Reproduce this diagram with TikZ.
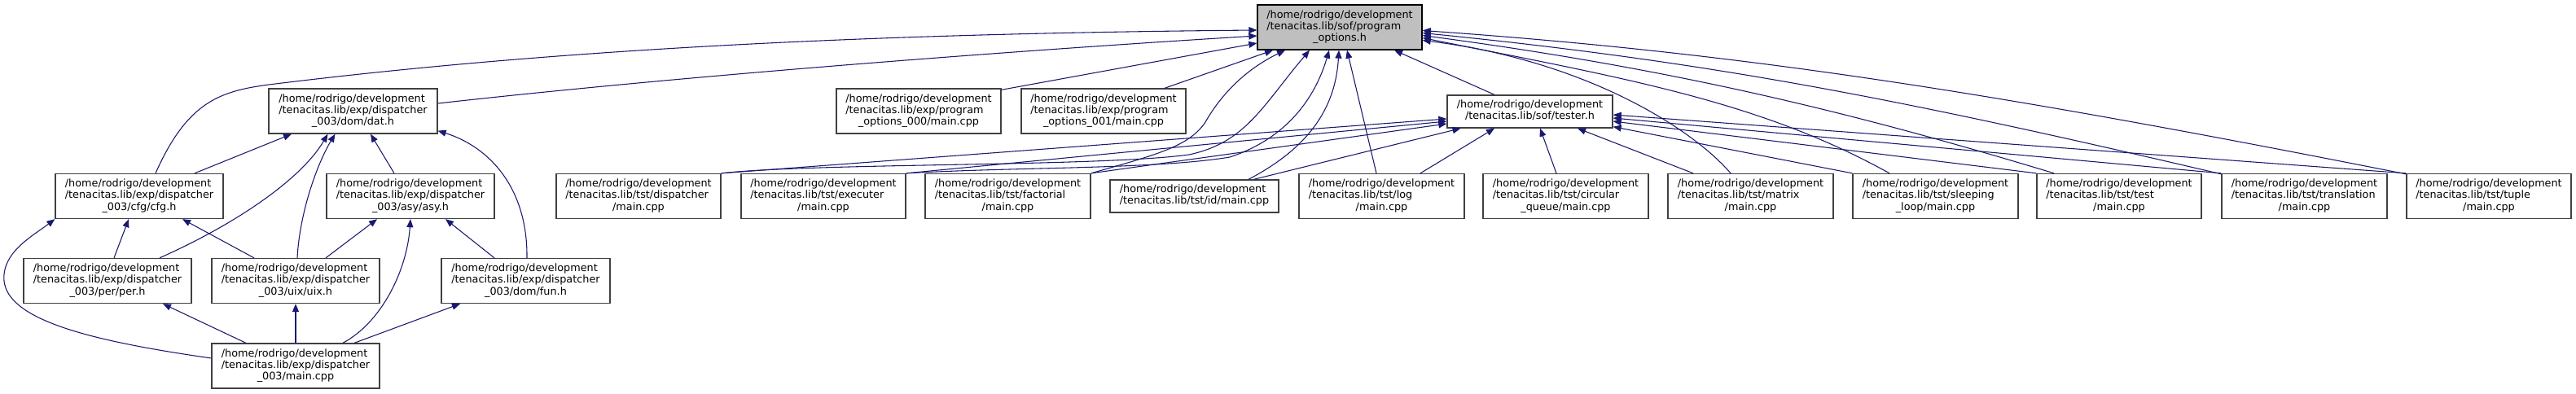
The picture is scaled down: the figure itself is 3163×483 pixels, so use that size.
\documentclass[tikz,border=0pt]{standalone}
\usepackage{fontspec}
\setmainfont{DejaVu Sans}
\usetikzlibrary{arrows.meta,calc}
\definecolor{edgeblue}{HTML}{191970}
\definecolor{boxborder}{HTML}{404040}
\definecolor{pofill}{HTML}{BFBFBF}
\newcommand{\lblfont}{\fontsize{9.6pt}{10.7pt}\selectfont}
\newcommand{\lblthree}[3]{\begin{tabular}{@{}l@{}}#1\\#2\\\multicolumn{1}{@{}c@{}}{#3}\end{tabular}}
\newcommand{\lbltwo}[2]{\begin{tabular}{@{}l@{}}#1\\\multicolumn{1}{@{}c@{}}{#2}\end{tabular}}
\tikzset{
  fbox/.style={draw=boxborder, line width=1pt, fill=white, inner xsep=0pt, inner ysep=0pt,
    minimum width=#1*0.75pt, minimum height=41.25pt, font=\lblfont},
  fboxtwo/.style={fbox=#1, minimum height=30pt},
  dep/.style={draw=edgeblue, line width=0.8pt, -{Triangle[length=7.5pt,width=6pt]}},
}
\begin{document}
\begin{tikzpicture}[x=0.75pt,y=-0.75pt]
\fill[white] (0,0) rectangle (3163,483);
\useasboundingbox (0,0) rectangle (3163,483);
% nodes
\node[fbox=202, fill=pofill, draw=black] (po) at (1645,33.5) {\lblthree{/home/rodrigo/development}{/tenacitas.lib/sof/program}{\_options.h}};
\node[fbox=207] (dat) at (433.5,136.5) {\lblthree{/home/rodrigo/development}{/tenacitas.lib/exp/dispatcher}{\_003/dom/dat.h}};
\node[fbox=202] (p000) at (1128,136.5) {\lblthree{/home/rodrigo/development}{/tenacitas.lib/exp/program}{\_options\_000/main.cpp}};
\node[fbox=202] (p001) at (1355,136.5) {\lblthree{/home/rodrigo/development}{/tenacitas.lib/exp/program}{\_options\_001/main.cpp}};
\node[fboxtwo=203] (tester) at (1878.5,137) {\lbltwo{/home/rodrigo/development}{/tenacitas.lib/sof/tester.h}};
\node[fbox=206] (cfg) at (171,241) {\lblthree{/home/rodrigo/development}{/tenacitas.lib/exp/dispatcher}{\_003/cfg/cfg.h}};
\node[fbox=206] (asy) at (504,241) {\lblthree{/home/rodrigo/development}{/tenacitas.lib/exp/dispatcher}{\_003/asy/asy.h}};
\node[fbox=202] (tdisp) at (784,241) {\lblthree{/home/rodrigo/development}{/tenacitas.lib/tst/dispatcher}{/main.cpp}};
\node[fbox=202] (texec) at (1011,241) {\lblthree{/home/rodrigo/development}{/tenacitas.lib/tst/executer}{/main.cpp}};
\node[fbox=203] (tfact) at (1237.5,241) {\lblthree{/home/rodrigo/development}{/tenacitas.lib/tst/factorial}{/main.cpp}};
\node[fboxtwo=207] (tid) at (1466.5,241) {\lbltwo{/home/rodrigo/development}{/tenacitas.lib/tst/id/main.cpp}};
\node[fbox=203] (tlog) at (1696.5,241) {\lblthree{/home/rodrigo/development}{/tenacitas.lib/tst/log}{/main.cpp}};
\node[fbox=203] (tcirc) at (1922.5,241) {\lblthree{/home/rodrigo/development}{/tenacitas.lib/tst/circular}{\_queue/main.cpp}};
\node[fbox=203] (tmat) at (2149.5,241) {\lblthree{/home/rodrigo/development}{/tenacitas.lib/tst/matrix}{/main.cpp}};
\node[fbox=203] (tsleep) at (2376.5,241) {\lblthree{/home/rodrigo/development}{/tenacitas.lib/tst/sleeping}{\_loop/main.cpp}};
\node[fbox=202] (ttest) at (2602,241) {\lblthree{/home/rodrigo/development}{/tenacitas.lib/tst/test}{/main.cpp}};
\node[fbox=203] (ttrans) at (2829.5,241) {\lblthree{/home/rodrigo/development}{/tenacitas.lib/tst/translation}{/main.cpp}};
\node[fbox=202] (ttuple) at (3056,241) {\lblthree{/home/rodrigo/development}{/tenacitas.lib/tst/tuple}{/main.cpp}};
\node[fbox=206] (per) at (132,345) {\lblthree{/home/rodrigo/development}{/tenacitas.lib/exp/dispatcher}{\_003/per/per.h}};
\node[fbox=206] (uix) at (363,345) {\lblthree{/home/rodrigo/development}{/tenacitas.lib/exp/dispatcher}{\_003/uix/uix.h}};
\node[fbox=207] (fun) at (645.5,345) {\lblthree{/home/rodrigo/development}{/tenacitas.lib/exp/dispatcher}{\_003/dom/fun.h}};
\node[fbox=206] (main) at (363,449.5) {\lblthree{/home/rodrigo/development}{/tenacitas.lib/exp/dispatcher}{\_003/main.cpp}};
% edges to program_options.h
\draw[dep] ($(cfg.north)+(20,0)$) .. controls (230,125) and (270,112) .. (330,104) .. controls (700,58) and (1100,41) .. ($(po.west)+(0,3.5)$);
\draw[dep] ($(dat.east)+(0,-9.5)$) .. controls (850,92) and (1250,62) .. ($(po.west)+(0,10.5)$);
\draw[dep] ($(p000.north east)+(0,2)$) -- ($(po.west)+(0,19.5)$);
\draw[dep] ($(p001.north)+(75,0)$) -- ($(po.south)+(-82,0)$);
\draw[dep] ($(tester.north)+(-43.5,0)$) -- ($(po.south)+(67,0)$);
\draw[dep] (tdisp.north east) .. controls (1000,200) and (1350,205) .. (1460,190) .. controls (1530,175) and (1550,130) .. ($(po.south)+(-37,0)$);
\draw[dep] (texec.north east) .. controls (1250,205) and (1420,208) .. (1510,193) .. controls (1580,170) and (1615,120) .. ($(po.south)+(-13,0)$);
\draw[dep] (tfact.north east) .. controls (1420,190) and (1460,180) .. (1480,150) .. controls (1500,115) and (1530,85) .. ($(po.south)+(-67,0)$);
\draw[dep] ($(tid.north)+(66.5,0)$) .. controls (1610,180) and (1640,130) .. ($(po.south)+(-1,0)$);
\draw[dep] ($(tlog.north)+(-6.5,0)$) -- ($(po.south)+(9,0)$);
\draw[dep] ($(tmat.north)+(-24.5,0)$) .. controls (2080,160) and (1950,75) .. ($(po.east)+(0,16)$);
\draw[dep] ($(tsleep.north)+(-56.5,0)$) .. controls (2160,124) and (1996,96.5) .. ($(po.east)+(0,13)$);
\draw[dep] ($(ttest.north)+(-80,0)$) .. controls (2262,134) and (2046,83.5) .. ($(po.east)+(0,10)$);
\draw[dep] ($(ttrans.north west)+(0,1)$) .. controls (2328,120) and (2096,75.5) .. ($(po.east)+(0,7)$);
\draw[dep] ($(ttuple.north west)+(0,1)$) .. controls (2455,115) and (2146,65.5) .. ($(po.east)+(0,4)$);
% edges to tester.h
\draw[dep] (tdisp.north east) -- ($(tester.west)+(0,9)$);
\draw[dep] (texec.north east) -- ($(tester.west)+(0,12)$);
\draw[dep] (tfact.north east) -- ($(tester.west)+(0,15)$);
\draw[dep] ($(tid.north)+(73,0)$) -- ($(tester.south)+(-85,0)$);
\draw[dep] ($(tlog.north)+(47.5,0)$) -- ($(tester.south)+(-43.5,0)$);
\draw[dep] ($(tcirc.north)+(-11.5,0)$) -- ($(tester.south)+(12.5,0)$);
\draw[dep] ($(tmat.north)+(-70.5,0)$) -- ($(tester.south)+(58.5,0)$);
\draw[dep] (tsleep.north west) -- ($(tester.south east)+(0,-2)$);
\draw[dep] (ttest.north west) -- ($(tester.east)+(0,12)$);
\draw[dep] (ttrans.north west) -- ($(tester.east)+(0,8)$);
\draw[dep] (ttuple.north west) -- ($(tester.east)+(0,4)$);
% dispatcher_003 edges
\draw[dep] ($(cfg.north)+(68,0)$) -- ($(dat.south)+(-75.5,0)$);
\draw[dep] ($(per.north)+(64,0)$) .. controls (290,275) and (370,220) .. ($(dat.south)+(-31,0)$);
\draw[dep] ($(uix.north)+(2,0)$) .. controls (368,260) and (390,200) .. ($(dat.south)+(-22,0)$);
\draw[dep] ($(asy.north)+(-20,0)$) -- ($(dat.south)+(21.5,0)$);
\draw[dep] ($(fun.north)+(1.5,0)$) .. controls (648,230) and (600,180) .. ($(dat.south east)+(0,-4)$);
\draw[dep] ($(per.north)+(8,0)$) -- ($(cfg.south)+(-13,0)$);
\draw[dep] ($(uix.north)+(-51,0)$) -- ($(cfg.south)+(53,0)$);
\draw[dep] ($(main.west)+(0,-9.5)$) .. controls (120,420) and (10,395) .. (5,345) .. controls (2,310) and (40,290) .. (cfg.south west);
\draw[dep] ($(uix.north)+(37,0)$) -- ($(asy.south)+(-41,0)$);
\draw[dep] ($(main.north)+(58,0)$) .. controls (470,395) and (500,330) .. (asy.south);
\draw[dep] ($(fun.north)+(-38.5,0)$) -- ($(asy.south)+(43,0)$);
\draw[dep] ($(main.north)+(-61,0)$) -- ($(per.south)+(68,0)$);
\draw[dep] (main.north) -- (uix.south);
\draw[dep] ($(main.north)+(72,0)$) -- ($(fun.south)+(-80.5,0)$);
\end{tikzpicture}
\end{document}
